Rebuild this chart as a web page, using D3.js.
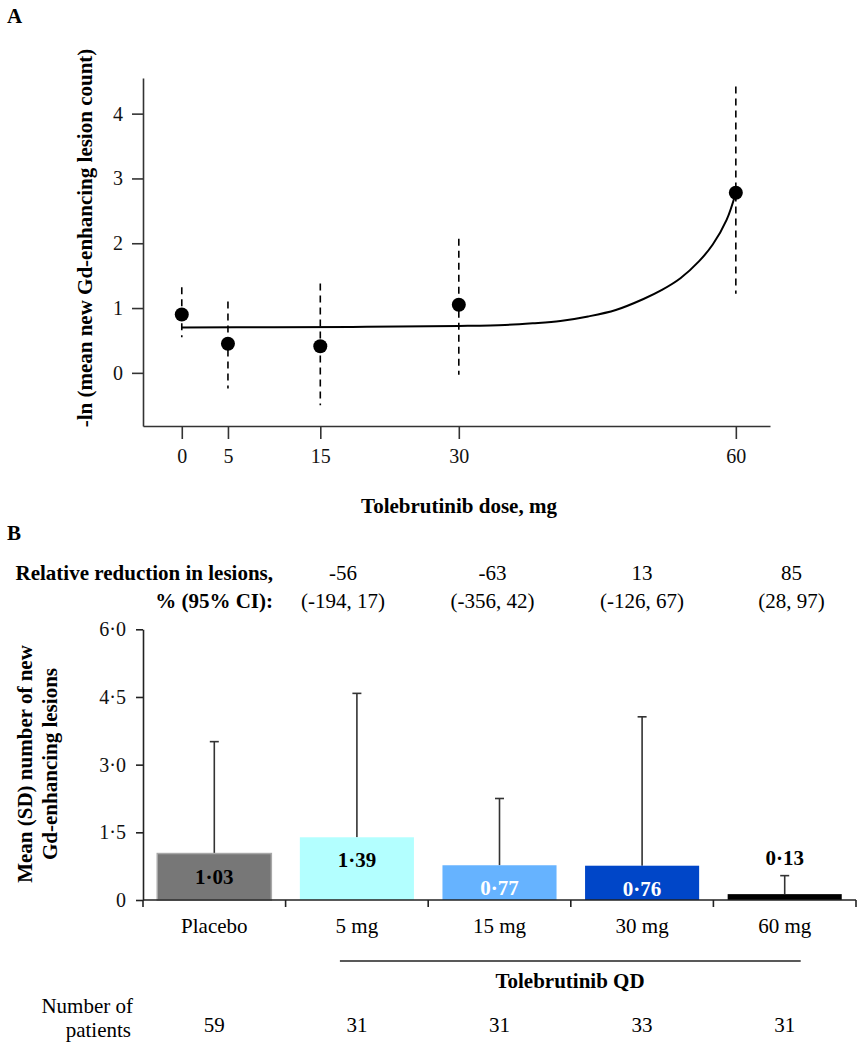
<!DOCTYPE html>
<html>
<head>
<meta charset="utf-8">
<script src="https://cdn.jsdelivr.net/npm/d3@7/dist/d3.min.js"></script>
<style>
  html, body { margin: 0; padding: 0; background: #fff; }
  svg { display: block; font-family: "Liberation Serif", "Times New Roman", Times, serif; }
</style>
</head>
<body>
<svg id="chart" width="866" height="1050" font-family="Liberation Serif, Times New Roman, serif"></svg>
<script>
// ---------- Panel A data ----------
const doses = [0, 5, 15, 30, 60];
const lnMean = [0.90, 0.45, 0.41, 1.05, 2.78];
const ciLow = [0.55, -0.24, -0.50, -0.03, 1.22];
const ciHigh = [1.32, 1.10, 1.38, 2.07, 4.42];
const fitDose = [0, 10, 20, 30, 35, 38, 41, 44, 47, 50, 52, 54, 56, 57.5, 59, 60];
const fitValue = [0.70, 0.705, 0.71, 0.725, 0.74, 0.765, 0.80, 0.87, 0.97, 1.14, 1.28, 1.46, 1.72, 1.98, 2.36, 2.78];
const aYTicks = [0, 1, 2, 3, 4];

// ---------- Panel B data ----------
const groups = ["Placebo", "5 mg", "15 mg", "30 mg", "60 mg"];
const meanLesions = [1.03, 1.39, 0.77, 0.76, 0.13];
const sdLesions = [2.48, 3.19, 1.48, 3.30, 0.41];
const barLabels = ["1·03", "1·39", "0·77", "0·76", "0·13"];
const barColors = ["#777777", "#b3ffff", "#66b3ff", "#0046c8", "#000000"];
const labelColors = ["#000", "#000", "#fff", "#fff", "#000"];
const reductionPct = ["-56", "-63", "13", "85"];
const reductionCI = ["(-194, 17)", "(-356, 42)", "(-126, 67)", "(28, 97)"];
const nPatients = [59, 31, 31, 33, 31];
const bYTicks = [0, 1.5, 3, 4.5, 6];
const bYTickLabels = ["0", "1·5", "3·0", "4·5", "6·0"];

const svg = d3.select("#chart");
const FS = 21;
const TFS = 20;

// ================= Panel A =================
const gA = svg.append("g");
gA.append("text").attr("x", 7).attr("y", 23).attr("font-weight", "bold").attr("font-size", FS).text("A");

const xA = d3.scaleLinear().domain([-4.2, 63.7]).range([143, 770]);
const yA = d3.scaleLinear().domain([-0.82, 4.55]).range([426, 78]);

const axAx = gA.append("g").attr("transform", "translate(0,426)")
  .call(d3.axisBottom(xA).tickValues(doses).tickSizeInner(13).tickSizeOuter(0).tickPadding(10).tickFormat(d3.format("d")));
const axAy = gA.append("g").attr("transform", "translate(143,0)")
  .call(d3.axisLeft(yA).tickValues(aYTicks).tickSizeInner(11).tickSizeOuter(0).tickPadding(9).tickFormat(d3.format("d")));
[axAx, axAy].forEach(a => {
  a.attr("font-family", null).attr("font-size", null);
  a.selectAll("path, line").attr("stroke", "#333").attr("stroke-width", 1.6);
  a.selectAll("text").attr("font-size", TFS).attr("fill", "#111");
});

gA.append("text").attr("x", 459).attr("y", 513).attr("text-anchor", "middle")
  .attr("font-weight", "bold").attr("font-size", FS).text("Tolebrutinib dose, mg");
gA.append("text").attr("transform", "translate(92,238) rotate(-90)").attr("text-anchor", "middle")
  .attr("font-weight", "bold").attr("font-size", FS).text("-ln (mean new Gd-enhancing lesion count)");

// error bars (dashed)
gA.selectAll("line.ci").data(doses).join("line").attr("class", "ci")
  .attr("x1", d => xA(d)).attr("x2", d => xA(d))
  .attr("y1", (d, i) => yA(ciHigh[i])).attr("y2", (d, i) => yA(ciLow[i]))
  .attr("stroke", "#000").attr("stroke-width", 1.6).attr("stroke-dasharray", "7,5");

// fitted curve
const fitPts = fitDose.map((d, i) => [d, fitValue[i]]);
gA.append("path").datum(fitPts)
  .attr("d", d3.line().x(d => xA(d[0])).y(d => yA(d[1])).curve(d3.curveCatmullRom.alpha(0.5)))
  .attr("fill", "none").attr("stroke", "#000").attr("stroke-width", 2);

// points
gA.selectAll("circle.pt").data(doses).join("circle").attr("class", "pt")
  .attr("cx", d => xA(d)).attr("cy", (d, i) => yA(lnMean[i])).attr("r", 7).attr("fill", "#000");

// ================= Panel B =================
const gB = svg.append("g");
gB.append("text").attr("x", 7).attr("y", 540).attr("font-weight", "bold").attr("font-size", FS).text("B");

const xB = d3.scaleBand().domain(groups).range([143, 856]).paddingInner(0.2).paddingOuter(0.1);
const yB = d3.scaleLinear().domain([0, 6]).range([900, 629.3]);
const step = xB.step();

// header
gB.append("text").attr("x", 273).attr("y", 580).attr("text-anchor", "end")
  .attr("font-weight", "bold").attr("font-size", FS).text("Relative reduction in lesions,");
gB.append("text").attr("x", 273).attr("y", 608).attr("text-anchor", "end")
  .attr("font-weight", "bold").attr("font-size", FS).text("% (95% CI):");
const xHead = d3.scalePoint().domain(groups.slice(1)).range([343, 791.5]);
gB.selectAll("text.red").data(groups.slice(1)).join("text").attr("class", "red")
  .attr("x", d => xHead(d)).attr("y", 580).attr("text-anchor", "middle").attr("font-size", FS)
  .text((d, i) => reductionPct[i]);
gB.selectAll("text.redci").data(groups.slice(1)).join("text").attr("class", "redci")
  .attr("x", d => xHead(d)).attr("y", 608).attr("text-anchor", "middle").attr("font-size", FS)
  .text((d, i) => reductionCI[i]);

// y axis
const axBy = gB.append("g").attr("transform", "translate(143,0)")
  .call(d3.axisLeft(yB).tickValues(bYTicks).tickSizeInner(7).tickSizeOuter(0).tickPadding(10)
    .tickFormat((d, i) => bYTickLabels[i]));
axBy.attr("font-family", null).attr("font-size", null);
axBy.selectAll("path, line").attr("stroke", "#222").attr("stroke-width", 1.6);
axBy.selectAll("text").attr("font-size", TFS).attr("fill", "#111");

gB.append("text").attr("transform", "translate(32,764) rotate(-90)").attr("text-anchor", "middle")
  .attr("font-weight", "bold").attr("font-size", FS).text("Mean (SD) number of new");
gB.append("text").attr("transform", "translate(57,764) rotate(-90)").attr("text-anchor", "middle")
  .attr("font-weight", "bold").attr("font-size", FS).text("Gd-enhancing lesions");

// error bars (upper SD)
gB.selectAll("line.sd").data(groups).join("line").attr("class", "sd")
  .attr("x1", d => xB(d) + xB.bandwidth() / 2).attr("x2", d => xB(d) + xB.bandwidth() / 2)
  .attr("y1", (d, i) => yB(meanLesions[i])).attr("y2", (d, i) => yB(meanLesions[i] + sdLesions[i]))
  .attr("stroke", "#333").attr("stroke-width", 1.6);
gB.selectAll("line.cap").data(groups).join("line").attr("class", "cap")
  .attr("x1", d => xB(d) + xB.bandwidth() / 2 - 4.5).attr("x2", d => xB(d) + xB.bandwidth() / 2 + 4.5)
  .attr("y1", (d, i) => yB(meanLesions[i] + sdLesions[i])).attr("y2", (d, i) => yB(meanLesions[i] + sdLesions[i]))
  .attr("stroke", "#333").attr("stroke-width", 1.6);

// bars
gB.selectAll("rect.bar").data(groups).join("rect").attr("class", "bar")
  .attr("x", d => xB(d)).attr("width", xB.bandwidth())
  .attr("y", (d, i) => yB(meanLesions[i])).attr("height", (d, i) => yB(0) - yB(meanLesions[i]))
  .attr("fill", (d, i) => barColors[i])
  .attr("stroke", (d, i) => i === 0 ? "#a8a8a8" : "none").attr("stroke-width", 1.5);

// bar labels
gB.selectAll("text.bl").data(groups).join("text").attr("class", "bl")
  .attr("x", d => xB(d) + xB.bandwidth() / 2)
  .attr("y", (d, i) => i === 4 ? yB(meanLesions[i] + sdLesions[i]) - 11 : yB(meanLesions[i]) + 30)
  .attr("text-anchor", "middle").attr("font-weight", "bold").attr("font-size", FS)
  .attr("fill", (d, i) => labelColors[i]).text((d, i) => barLabels[i]);

// x axis line with boundary ticks
const x0 = xB.range()[0], x1 = xB.range()[1];
gB.append("line").attr("x1", x0).attr("x2", x1).attr("y1", yB(0)).attr("y2", yB(0))
  .attr("stroke", "#222").attr("stroke-width", 1.6);
gB.selectAll("line.bt").data(d3.range(groups.length + 1)).join("line").attr("class", "bt")
  .attr("x1", i => x0 + i * step).attr("x2", i => x0 + i * step)
  .attr("y1", yB(0)).attr("y2", yB(0) + 7).attr("stroke", "#222").attr("stroke-width", 1.6);

// category labels
gB.selectAll("text.cat").data(groups).join("text").attr("class", "cat")
  .attr("x", d => xB(d) + xB.bandwidth() / 2).attr("y", 933).attr("text-anchor", "middle")
  .attr("font-size", FS).text(d => d);

// Tolebrutinib QD bracket
gB.append("line")
  .attr("x1", xB("5 mg") + xB.bandwidth() / 2 - 17).attr("x2", xB("60 mg") + xB.bandwidth() / 2 + 16)
  .attr("y1", 961).attr("y2", 961).attr("stroke", "#222").attr("stroke-width", 1.5);
gB.append("text").attr("x", 570).attr("y", 988).attr("text-anchor", "middle")
  .attr("font-weight", "bold").attr("font-size", FS).text("Tolebrutinib QD");

// number of patients
gB.append("text").attr("x", 133).attr("y", 1013).attr("text-anchor", "end").attr("font-size", FS).text("Number of");
gB.append("text").attr("x", 131).attr("y", 1037).attr("text-anchor", "end").attr("font-size", FS).text("patients");
gB.selectAll("text.np").data(groups).join("text").attr("class", "np")
  .attr("x", d => xB(d) + xB.bandwidth() / 2).attr("y", 1032).attr("text-anchor", "middle")
  .attr("font-size", FS).text((d, i) => nPatients[i]);
</script>
</body>
</html>
